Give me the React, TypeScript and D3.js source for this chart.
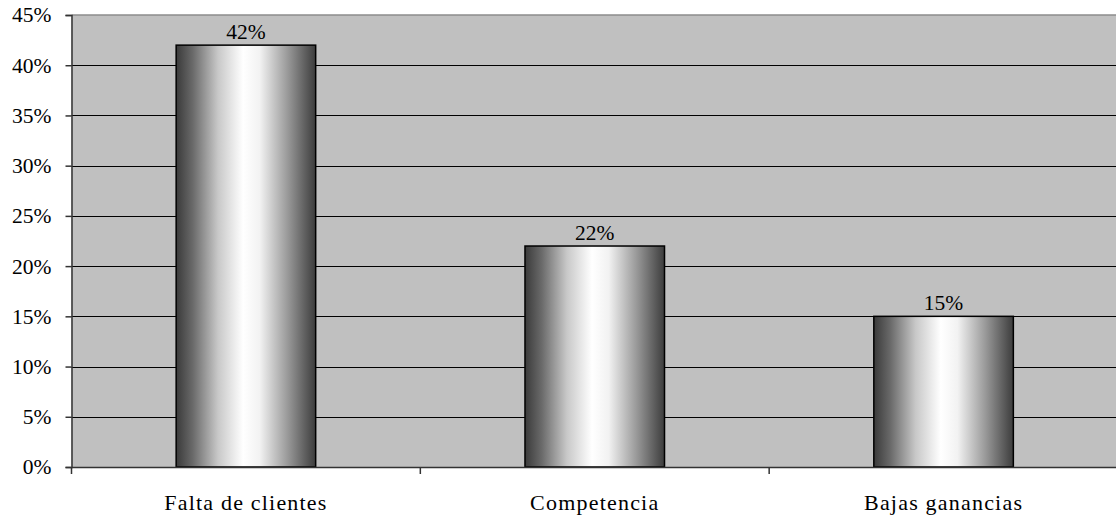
import { useEffect, useRef } from "react";
import * as d3 from "d3";

const categories = ["Falta de clientes", "Competencia", "Bajas ganancias"];
const values = [0.42, 0.22, 0.15];
const yTicks = [0, 0.05, 0.1, 0.15, 0.2, 0.25, 0.3, 0.35, 0.4, 0.45];

export default function App() {
  const svgRef = useRef<SVGSVGElement>(null);

  useEffect(() => {
    if (!svgRef.current) return;
    const svg = d3.select(svgRef.current);
    const width = 1116;
    const height = 519;
    const left = 71.5;
    const top = 15;
    const bottom = 467;
    const right = 1118;
    const font = "'Liberation Serif', 'Times New Roman', serif";

    svg.selectAll("*").remove();
    svg.attr("width", width).attr("height", height);

    const defs = svg.append("defs");
    const grad = defs
      .append("linearGradient")
      .attr("id", "barGrad")
      .attr("x1", "0%")
      .attr("x2", "100%")
      .attr("y1", "0%")
      .attr("y2", "0%");
    [
      [0, "#3a3a3a"],
      [0.12, "#6a6a6a"],
      [0.3, "#c8c8c8"],
      [0.48, "#ffffff"],
      [0.6, "#f2f2f2"],
      [0.8, "#999999"],
      [1, "#3c3c3c"],
    ].forEach(([o, c]) => {
      grad.append("stop").attr("offset", o as number).attr("stop-color", c as string);
    });

    const x = d3.scaleBand<string>().domain(categories).range([left, right]);
    const y = d3.scaleLinear().domain([0, 0.45]).range([bottom, top]);

    // plot background
    svg
      .append("rect")
      .attr("x", left)
      .attr("y", top)
      .attr("width", right - left)
      .attr("height", bottom - top)
      .attr("fill", "#c0c0c0");

    // gridlines
    svg
      .append("g")
      .selectAll("line")
      .data(yTicks.slice(1, -1))
      .join("line")
      .attr("x1", left)
      .attr("x2", right)
      .attr("y1", (d) => Math.round(y(d)) + 0.5)
      .attr("y2", (d) => Math.round(y(d)) + 0.5)
      .attr("stroke", "#000")
      .attr("stroke-width", 1);

    // top border
    svg
      .append("line")
      .attr("x1", left)
      .attr("x2", right)
      .attr("y1", y(0.45))
      .attr("y2", y(0.45))
      .attr("stroke", "#8c8c8c")
      .attr("stroke-width", 1.5);

    // bars
    const barW = x.bandwidth() * 0.4;
    svg
      .append("g")
      .selectAll("rect")
      .data(values)
      .join("rect")
      .attr("x", (_d, i) => x(categories[i])! + (x.bandwidth() - barW) / 2)
      .attr("y", (d) => y(d))
      .attr("width", barW)
      .attr("height", (d) => bottom - y(d))
      .attr("fill", "url(#barGrad)")
      .attr("stroke", "#000")
      .attr("stroke-width", 1.5);

    // value labels
    svg
      .append("g")
      .selectAll("text")
      .data(values)
      .join("text")
      .attr("x", (_d, i) => x(categories[i])! + x.bandwidth() / 2)
      .attr("y", (d) => y(d) - 6)
      .attr("text-anchor", "middle")
      .attr("font-family", font)
      .attr("font-size", 21.5)
      .attr("fill", "#000")
      .text((d) => d3.format(".0%")(d));

    // y axis
    const yAxis = svg
      .append("g")
      .attr("transform", `translate(${left},0)`)
      .call(
        d3
          .axisLeft(y)
          .tickValues(yTicks)
          .tickSize(6)
          .tickPadding(14)
          .tickFormat((d) => d3.format(".0%")(d as number)),
      );
    yAxis.select("path.domain").attr("stroke", "#333").attr("stroke-width", 1.5);
    yAxis.selectAll("line").attr("stroke", "#333").attr("stroke-width", 1.5);
    yAxis
      .selectAll("text")
      .attr("font-family", font)
      .attr("font-size", 21.5)
      .attr("fill", "#000");

    // x axis
    const xAxis = svg
      .append("g")
      .attr("transform", `translate(0,${bottom})`)
      .call(d3.axisBottom(x).tickSize(0).tickPadding(27).tickSizeOuter(0));
    xAxis.select("path.domain").attr("stroke", "#333").attr("stroke-width", 1.5);
    xAxis
      .selectAll("text")
      .attr("font-family", font)
      .attr("font-size", 22)
      .attr("letter-spacing", 1.2)
      .attr("fill", "#000");

    // category boundary ticks
    svg
      .append("g")
      .selectAll("line")
      .data(categories)
      .join("line")
      .attr("x1", (d) => x(d)!)
      .attr("x2", (d) => x(d)!)
      .attr("y1", bottom)
      .attr("y2", bottom + 7)
      .attr("stroke", "#333")
      .attr("stroke-width", 1.5);
  }, []);

  return (
    <div style={{ position: "fixed", left: 0, top: 0, width: 1116, height: 519, background: "#fff" }}>
      <svg ref={svgRef} style={{ display: "block" }} />
    </div>
  );
}
